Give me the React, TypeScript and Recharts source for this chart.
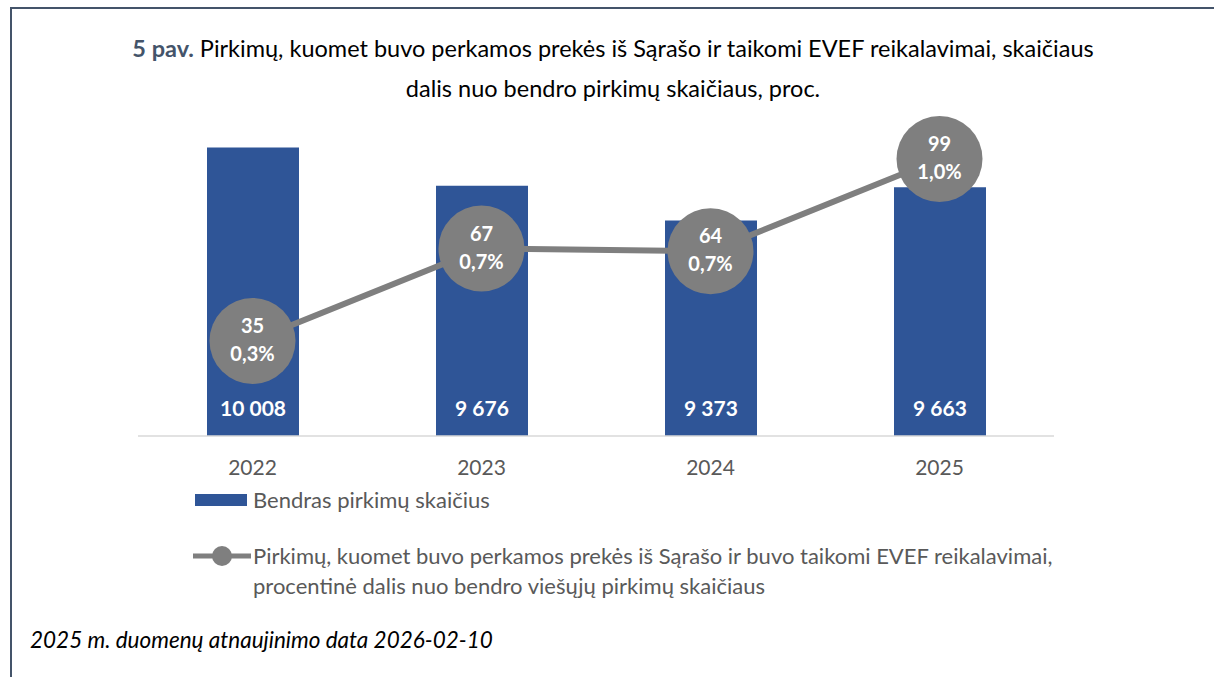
import { ComposedChart, Bar, Line, XAxis, YAxis, LabelList } from 'recharts';

const years = ['2022', '2023', '2024', '2025'];
const totalPurchases = [10008, 9676, 9373, 9663];
const sarasasPurchases = [35, 67, 64, 99];
const sharePct = [0.35, 0.69, 0.68, 1.02];
const shareLabels = ['0,3%', '0,7%', '0,7%', '1,0%'];

const data = years.map((y, i) => ({
  year: y,
  total: totalPurchases[i],
  count: sarasasPurchases[i],
  share: sharePct[i],
  shareLabel: shareLabels[i],
}));

const FONT = 'Lato, "Open Sans", sans-serif';
const BLUE = '#2F5597';
const GREY = '#7F7F7F';
const FRAME = '#44546A';

const fmt = (v: number) => v.toLocaleString('en-US').replace(/,/g, ' ');

function BarValue(props: any) {
  const { x, y, width, height, value } = props;
  return (
    <text
      x={x + width / 2}
      y={y + height - 25}
      textAnchor="middle"
      dominantBaseline="middle"
      fill="#fff"
      fontWeight={700}
      fontSize={21}
      fontFamily={FONT}
    >
      {fmt(value)}
    </text>
  );
}

function BubbleDot(props: any) {
  const { cx, cy, payload } = props;
  return (
    <g>
      <circle cx={cx} cy={cy} r={43} fill={GREY} />
      <text x={cx} y={cy - 13} textAnchor="middle" dominantBaseline="middle" fill="#fff" fontWeight={700} fontSize={20} fontFamily={FONT}>
        {payload.count}
      </text>
      <text x={cx} y={cy + 15} textAnchor="middle" dominantBaseline="middle" fill="#fff" fontWeight={700} fontSize={20} fontFamily={FONT}>
        {payload.shareLabel}
      </text>
    </g>
  );
}

export default function App() {
  return (
    <div style={{ position: 'absolute', left: 0, top: 0, width: 1214, height: 677, background: '#fff', fontFamily: FONT, overflow: 'hidden' }}>
      <div style={{ position: 'absolute', left: 10, top: 7, width: 1204, height: 670, borderTop: `2px solid ${FRAME}`, borderLeft: `2px solid ${FRAME}` }} />
      <div style={{ position: 'absolute', left: 12, width: 1202, top: 28, textAlign: 'center', fontSize: 23.5, lineHeight: '40px', color: '#000' }}>
        <span style={{ fontWeight: 700, color: FRAME }}>5 pav.</span> Pirkimų, kuomet buvo perkamos prekės iš Sąrašo ir taikomi EVEF reikalavimai, skaičiaus
        <br />
        dalis nuo bendro pirkimų skaičiaus, proc.
      </div>
      <div style={{ position: 'absolute', left: 0, top: 0 }}>
        <ComposedChart width={1214} height={677} data={data} margin={{ top: 91, right: 160, bottom: 201, left: 138 }}>
          <XAxis
            dataKey="year"
            height={40}
            tickLine={false}
            tickSize={0}
            tickMargin={24}
            axisLine={{ stroke: '#D9D9D9', strokeWidth: 1.5 }}
            tick={{ fontSize: 21, fill: '#595959', fontFamily: FONT }}
          />
          <YAxis yAxisId="total" hide domain={[7500, 10500]} />
          <YAxis yAxisId="share" hide orientation="right" domain={[0, 1.27]} />
          <Bar yAxisId="total" dataKey="total" fill={BLUE} barSize={92} isAnimationActive={false}>
            <LabelList dataKey="total" content={<BarValue />} />
          </Bar>
          <Line
            yAxisId="share"
            dataKey="share"
            stroke={GREY}
            strokeWidth={6}
            dot={<BubbleDot />}
            activeDot={false}
            isAnimationActive={false}
          />
        </ComposedChart>
      </div>
      <div style={{ position: 'absolute', left: 195, top: 494, width: 52, height: 12, background: BLUE }} />
      <div style={{ position: 'absolute', left: 253, top: 486, fontSize: 22, color: '#595959', lineHeight: '28px' }}>
        Bendras pirkimų skaičius
      </div>
      <svg style={{ position: 'absolute', left: 190, top: 544 }} width={64} height={24}>
        <line x1={3} y1={12} x2={61} y2={12} stroke={GREY} strokeWidth={5} />
        <circle cx={32} cy={12} r={10} fill={GREY} />
      </svg>
      <div style={{ position: 'absolute', left: 253, top: 541, fontSize: 22, color: '#595959', lineHeight: '30px' }}>
        Pirkimų, kuomet buvo perkamos prekės iš Sąrašo ir buvo taikomi EVEF reikalavimai,
        <br />
        procentinė dalis nuo bendro viešųjų pirkimų skaičiaus
      </div>
      <div style={{ position: 'absolute', left: 30, top: 625, fontSize: 22.5, fontStyle: 'italic', color: '#000', lineHeight: '30px' }}>
        2025 m. duomenų atnaujinimo data 2026-02-10
      </div>
    </div>
  );
}
